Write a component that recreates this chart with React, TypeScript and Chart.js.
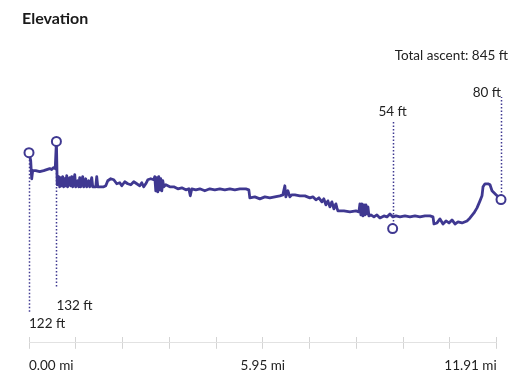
import { useEffect, useRef } from 'react';
import { Chart, registerables } from 'chart.js';

Chart.register(...registerables);

// ---- data (miles / feet) ----
const distances = [
  0.0, 0.043, 0.069, 0.094, 0.171, 0.273, 0.375, 0.451, 0.528, 0.578, 0.629, 0.668, 0.698, 0.719,
  0.757, 0.782, 0.808, 0.833, 0.859, 0.884, 0.91, 0.935, 0.961, 0.986, 1.037, 1.063, 1.088, 1.114,
  1.165, 1.19, 1.241, 1.267, 1.292, 1.318, 1.368, 1.394, 1.445, 1.47, 1.521, 1.547, 1.598, 1.623,
  1.7, 1.725, 1.751, 1.904, 1.955, 2.006, 2.082, 2.159, 2.235, 2.312, 2.363, 2.439, 2.515, 2.592,
  2.668, 2.745, 2.821, 2.872, 2.923, 2.974, 3.025, 3.101, 3.178, 3.203, 3.229, 3.254, 3.28, 3.305,
  3.331, 3.356, 3.382, 3.407, 3.433, 3.484, 3.586, 3.688, 3.79, 3.892, 3.994, 4.07, 4.108, 4.146,
  4.248, 4.35, 4.477, 4.605, 4.732, 4.86, 4.987, 5.115, 5.242, 5.369, 5.522, 5.599, 5.624, 5.752,
  5.879, 6.007, 6.134, 6.261, 6.389, 6.465, 6.516, 6.542, 6.593, 6.644, 6.695, 6.771, 6.899, 7.026,
  7.154, 7.23, 7.307, 7.383, 7.459, 7.51, 7.561, 7.612, 7.663, 7.714, 7.765, 7.816, 7.842, 7.867,
  8.02, 8.173, 8.326, 8.402, 8.428, 8.453, 8.479, 8.504, 8.53, 8.555, 8.581, 8.606, 8.632, 8.657,
  8.708, 8.785, 8.861, 8.938, 9.04, 9.116, 9.193, 9.269, 9.346, 9.448, 9.575, 9.703, 9.83, 9.957,
  10.085, 10.212, 10.289, 10.314, 10.391, 10.467, 10.544, 10.62, 10.696, 10.773, 10.849, 10.926,
  11.028, 11.155, 11.232, 11.333, 11.41, 11.486, 11.537, 11.563, 11.614, 11.69, 11.741, 11.792,
  11.894, 12.021,
];

const elevations = [
  122, 114.9, 98.6, 105.9, 105.9, 105.0, 105.9, 106.8, 107.7, 106.8, 108.6, 107.7, 132, 93.2,
  100.5, 91.4, 99.6, 92.3, 100.5, 91.4, 98.6, 92.3, 101.4, 91.4, 99.6, 92.3, 100.5, 91.4,
  102.3, 91.4, 96.8, 91.4, 99.6, 91.4, 100.5, 91.4, 98.6, 91.4, 96.8, 91.4, 99.6, 91.4,
  91.4, 100.5, 91.4, 91.4, 92.3, 96.8, 98.6, 97.7, 94.1, 95.0, 92.3, 95.9, 94.1, 93.2,
  95.9, 94.1, 92.3, 95.0, 91.4, 94.1, 97.7, 98.6, 97.7, 100.5, 87.8, 99.6, 86.9, 100.5,
  88.7, 98.6, 87.8, 96.8, 91.4, 93.2, 91.4, 91.4, 89.6, 90.5, 88.7, 89.6, 83.3, 89.6,
  88.7, 89.6, 87.8, 89.6, 88.7, 89.6, 88.7, 89.6, 88.7, 89.6, 89.6, 88.7, 81.5, 82.4,
  80.6, 82.4, 81.5, 82.4, 83.3, 84.2, 92.3, 82.4, 87.8, 82.4, 84.2, 84.2, 83.3, 83.3,
  81.5, 82.4, 79.7, 81.5, 77.9, 80.6, 75.2, 78.8, 73.4, 77.9, 71.6, 76.1, 72.5, 69.8,
  69.8, 68.9, 69.8, 68.9, 76.1, 66.2, 76.1, 65.3, 75.2, 66.2, 75.2, 67.1, 73.4, 65.3,
  66.2, 64.4, 66.2, 63.5, 65.3, 64.4, 67.1, 64.4, 65.3, 64.4, 65.3, 64.4, 65.3, 64.4,
  65.3, 65.3, 64.4, 58.1, 59.0, 62.6, 58.1, 60.8, 59.0, 61.7, 58.1, 59.9,
  59.0, 60.8, 63.5, 68.0, 72.5, 78.8, 83.3, 91.4, 94.1, 94.1, 93.2, 87.8,
  84.2, 80,
];

// highlighted points: start, max, min, end
const markerDist = [0.0, 0.698, 9.261, 12.021];
const markerElev = [122, 132, 54, 80];
const markerLabels = ['122 ft', '132 ft', '54 ft', '80 ft'];

// x-axis ticks
const tickValues = [0, 1.191, 2.382, 3.573, 4.764, 5.955, 7.146, 8.337, 9.528, 10.719, 11.91];
const tickLabels = ['0.00 mi', '', '', '', '', '5.95 mi', '', '', '', '', '11.91 mi'];

const titleText = 'Elevation';
const ascentText = 'Total ascent: 845 ft';

// ---- styles ----
const LINE = '#3f3891';
const TEXT = '#222222';
const FONT = 'Lato';
// annotation layout for each marker label
const markerStyle = [
  { dir: 'down', lineEnd: 313, textY: 328, align: 'left' as CanvasTextAlign },
  { dir: 'down', lineEnd: 288, textY: 310, align: 'left' as CanvasTextAlign },
  { dir: 'up', lineEnd: 122, textY: 116, align: 'center' as CanvasTextAlign },
  { dir: 'up', lineEnd: 97, textY: 96.5, align: 'right' as CanvasTextAlign },
];

const annotationPlugin = {
  id: 'elevAnnotations',
  beforeDatasetsDraw(chart: any) {
    const { ctx, scales } = chart;
    ctx.save();
    ctx.strokeStyle = LINE;
    ctx.lineWidth = 1.5;
    ctx.setLineDash([1.5, 2]);
    markerDist.forEach((d, i) => {
      const px = Math.round(scales.x.getPixelForValue(d)) + 0.5;
      const py = scales.y.getPixelForValue(markerElev[i]);
      const st = markerStyle[i];
      ctx.beginPath();
      ctx.moveTo(px, py);
      ctx.lineTo(px, st.lineEnd);
      ctx.stroke();
    });
    ctx.restore();
  },
  afterDraw(chart: any) {
    const { ctx, scales, chartArea } = chart;
    ctx.save();
    // axis line
    ctx.strokeStyle = '#e2e2e2';
    ctx.lineWidth = 1;
    const ay = Math.round(chartArea.bottom + 6) - 0.5;
    ctx.beginPath();
    ctx.moveTo(scales.x.getPixelForValue(tickValues[0]), ay);
    ctx.lineTo(scales.x.getPixelForValue(tickValues[tickValues.length - 1]), ay);
    ctx.stroke();

    // title
    ctx.fillStyle = '#1a1a1a';
    ctx.textBaseline = 'alphabetic';
    ctx.textAlign = 'left';
    ctx.font = `bold 16px ${FONT}`;
    ctx.fillText(titleText, 22, 24);

    ctx.fillStyle = TEXT;
    ctx.font = `13.5px ${FONT}`;
    ctx.textAlign = 'right';
    ctx.fillText(ascentText, 508, 60);

    markerDist.forEach((d, i) => {
      const px = scales.x.getPixelForValue(d);
      const st = markerStyle[i];
      ctx.textAlign = st.align;
      ctx.fillText(markerLabels[i], px, st.textY);
    });
    ctx.restore();
  },
};

export default function App() {
  const ref = useRef<HTMLCanvasElement>(null);
  useEffect(() => {
    document.body.style.margin = '0';
    Chart.defaults.font.family = FONT;
    const chart = new Chart(ref.current!, {
      type: 'line',
      data: {
        datasets: [
          {
            label: 'markers',
            data: markerDist.map((d, i) => ({ x: d, y: markerElev[i] })),
            showLine: false,
            pointRadius: 4.5,
            pointBorderWidth: 2,
            pointBackgroundColor: '#ffffff',
            pointBorderColor: LINE,
            clip: false,
            order: 0,
          } as any,
          {
            label: 'elevation',
            data: distances.map((d, i) => ({ x: d, y: elevations[i] })),
            borderColor: LINE,
            borderWidth: 2.8,
            pointRadius: 0,
            tension: 0,
            fill: false,
            borderJoinStyle: 'round',
            clip: false,
            order: 1,
          } as any,
        ],
      },
      options: {
        responsive: false,
        animation: false,
        events: [],
        layout: { padding: { left: 29, right: 27, top: 60, bottom: 6 } },
        plugins: { legend: { display: false }, tooltip: { enabled: false } },
        scales: {
          x: {
            type: 'linear',
            min: 0,
            max: distances[distances.length - 1],
            afterBuildTicks: (scale: any) => {
              scale.ticks = tickValues.map((v) => ({ value: v }));
            },
            ticks: {
              autoSkip: false,
              maxRotation: 0,
              align: 'inner',
              padding: 9,
              color: TEXT,
              font: { family: FONT, size: 13.5 },
              callback: (_v: any, i: number) => tickLabels[i],
            },
            grid: {
              display: true,
              drawOnChartArea: false,
              drawTicks: true,
              tickLength: 12,
              color: '#d4d4d4',
              lineWidth: 1,
            },
            border: { display: false },
          },
          y: {
            type: 'linear',
            display: false,
            min: -43,
            max: 205,
          },
        },
      },
      plugins: [annotationPlugin],
    });
    return () => chart.destroy();
  }, []);
  return (
    <canvas
      ref={ref}
      width={528}
      height={389}
      style={{ display: 'block', width: 528, height: 389 }}
    />
  );
}
